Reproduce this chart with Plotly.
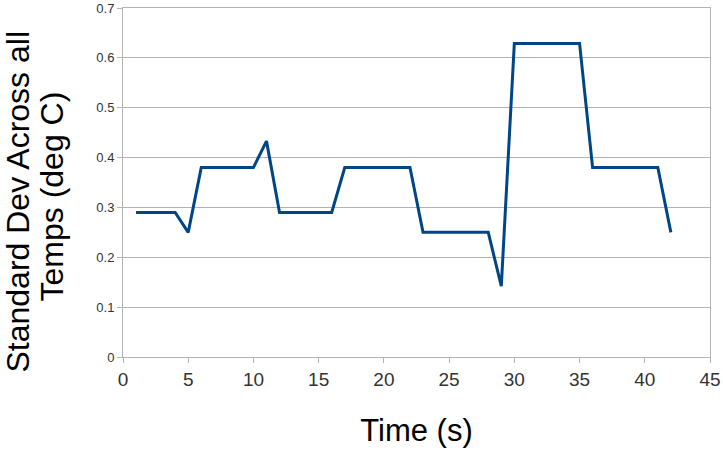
import plotly.graph_objects as go

time_s = list(range(1, 43))
std_dev = [0.29, 0.29, 0.29, 0.29, 0.25, 0.38, 0.38, 0.38, 0.38, 0.38,
           0.433, 0.29, 0.29, 0.29, 0.29, 0.29, 0.38, 0.38, 0.38, 0.38,
           0.38, 0.38, 0.25, 0.25, 0.25, 0.25, 0.25, 0.25, 0.142, 0.629,
           0.629, 0.629, 0.629, 0.629, 0.629, 0.38, 0.38, 0.38, 0.38, 0.38,
           0.38, 0.25]
x_ticks = [0, 5, 10, 15, 20, 25, 30, 35, 40, 45]
y_ticks = [0, 0.1, 0.2, 0.3, 0.4, 0.5, 0.6, 0.7]
x_title = "Time (s)"
y_title_lines = ["Standard Dev Across all", "Temps (deg C)"]

fig = go.Figure()
fig.add_trace(go.Scatter(x=time_s, y=std_dev, mode="lines",
                         line=dict(color="#004586", width=3), showlegend=False))

fig.update_layout(
    width=723, height=452,
    margin=dict(l=123, r=13, t=8, b=95),
    paper_bgcolor="white", plot_bgcolor="white",
    font=dict(family="Liberation Sans, Arial, sans-serif", color="#333333"),
)
fig.update_xaxes(
    range=[0, 45], tickvals=x_ticks, ticks="outside", ticklen=5, tickcolor="#b3b3b3",
    showgrid=False, showline=True, linecolor="#b3b3b3", mirror=True, zeroline=False,
    tickfont=dict(size=19, color="#333333"), automargin=False,
    title=dict(text=x_title, font=dict(size=31, color="#000000"), standoff=30),
)
fig.update_yaxes(
    range=[0, 0.7], tickvals=y_ticks, ticks="outside", ticklen=5, tickcolor="#b3b3b3",
    showgrid=True, gridcolor="#b3b3b3", gridwidth=1,
    showline=True, linecolor="#b3b3b3", mirror=True, zeroline=False,
    tickfont=dict(size=13, color="#333333"), automargin=False,
)
for line_text, xs, ys in zip(y_title_lines, [-106, -72], [-19, -14]):
    fig.add_annotation(text=line_text, textangle=-90, showarrow=False,
                       xref="paper", yref="paper", x=0, y=0.5,
                       xanchor="center", yanchor="middle", xshift=xs, yshift=ys,
                       font=dict(size=32, color="#000000"))

fig.write_html("out.html", config={"displayModeBar": False},
               post_script="document.body.style.margin='0';")
